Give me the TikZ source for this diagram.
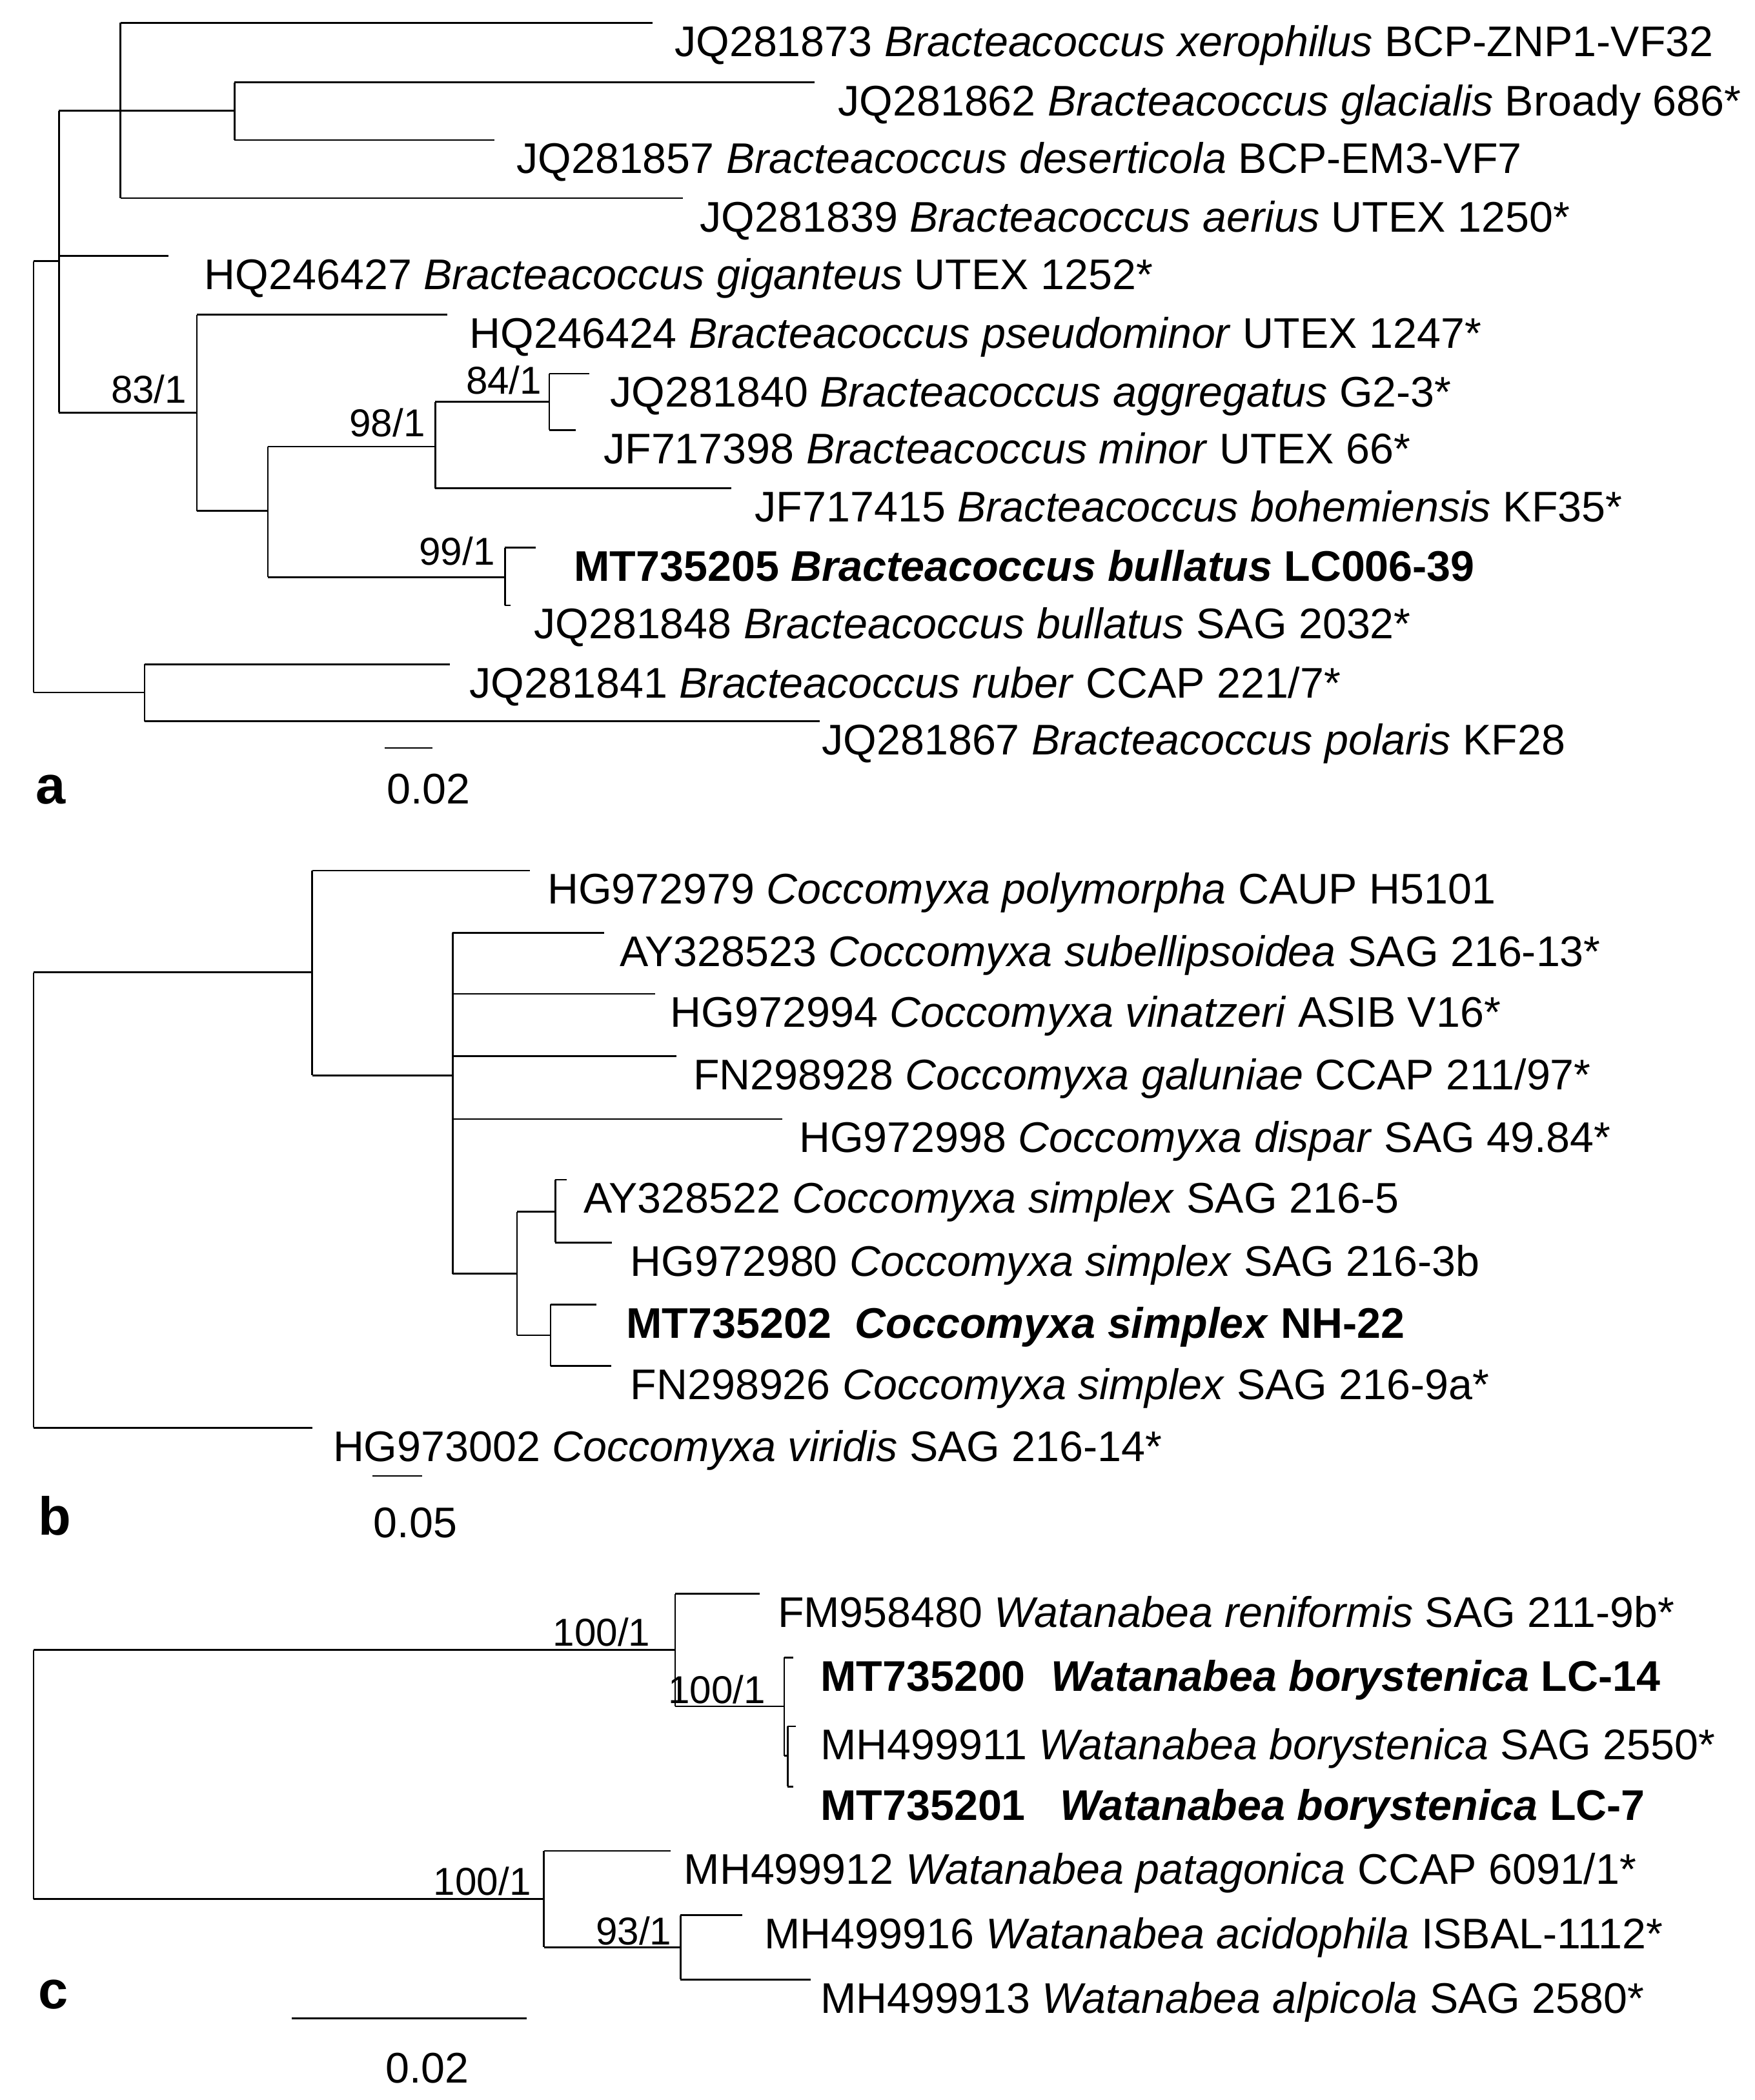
\documentclass[tikz,border=0pt]{standalone}
\usepackage{fontspec}
\setmainfont{Liberation Sans}
\begin{document}
\begin{tikzpicture}[x=1pt,y=-1pt,line width=1.3pt,
  leaf/.style={anchor=base west,inner sep=0pt,font=\fontsize{32}{38}\selectfont},
  supp/.style={anchor=base east,inner sep=0pt,font=\fontsize{29}{34}\selectfont},
  panel/.style={anchor=base west,inner sep=0pt,font=\fontsize{40}{46}\selectfont\bfseries}]
\useasboundingbox[fill=white] (0,0) rectangle (1310,1568);
% ---------- tree a ----------
\draw (25,195) -- (25,517);
\draw (25,195) -- (44,195);
\draw (44,82.7) -- (44,308);
\draw (44,82.7) -- (175,82.7);
\draw (90,17) -- (90,148);
\draw (90,17) -- (487,17);
\draw (175,61.5) -- (175,104.6);
\draw (175,61.5) -- (608,61.5);
\draw (175,104.6) -- (369,104.6);
\draw (90,148) -- (510,148);
\draw (44,191) -- (126,191);
\draw (44,308) -- (147,308);
\draw (147,235) -- (147,381.5);
\draw (147,235) -- (334,235);
\draw (147,381.5) -- (200,381.5);
\draw (200,333.5) -- (200,431);
\draw (200,333.5) -- (325,333.5);
\draw (325,300) -- (325,364.6);
\draw (325,300) -- (410,300);
\draw (410,279) -- (410,321);
\draw (410,279) -- (440,279);
\draw (410,321) -- (430,321);
\draw (325,364.6) -- (546,364.6);
\draw (200,431) -- (377,431);
\draw (377,409) -- (377,452);
\draw (377,409) -- (400,409);
\draw (377,452) -- (381,452);
\draw (25,517) -- (108,517);
\draw (108,496) -- (108,538.5);
\draw (108,496) -- (336,496);
\draw (108,538.5) -- (612,538.5);
\draw (287,558.5) -- (323,558.5);
\node[leaf] (a1) at (503,42) {JQ281873 \textit{Bracteacoccus xerophilus} BCP-ZNP1-VF32};
\node[leaf] (a2) at (625,86.5) {JQ281862 \textit{Bracteacoccus glacialis} Broady 686*};
\node[leaf] (a3) at (385,129.6) {JQ281857 \textit{Bracteacoccus deserticola} BCP-EM3-VF7};
\node[leaf] (a4) at (522,173) {JQ281839 \textit{Bracteacoccus aerius} UTEX 1250*};
\node[leaf] (a5) at (152,216) {HQ246427 \textit{Bracteacoccus giganteus} UTEX 1252*};
\node[leaf] (a6) at (350,260) {HQ246424 \textit{Bracteacoccus pseudominor} UTEX 1247*};
\node[leaf] (a7) at (455,304) {JQ281840 \textit{Bracteacoccus aggregatus} G2-3*};
\node[leaf] (a8) at (450,346) {JF717398 \textit{Bracteacoccus minor} UTEX 66*};
\node[leaf] (a9) at (563,389.6) {JF717415 \textit{Bracteacoccus bohemiensis} KF35*};
\node[leaf,font=\fontsize{32}{38}\selectfont\bfseries] (a10) at (428,434) {MT735205 \textit{Bracteacoccus bullatus} LC006-39};
\node[leaf] (a11) at (398,477) {JQ281848 \textit{Bracteacoccus bullatus} SAG 2032*};
\node[leaf] (a12) at (350,521) {JQ281841 \textit{Bracteacoccus ruber} CCAP 221/7*};
\node[leaf] (a13) at (613,563.5) {JQ281867 \textit{Bracteacoccus polaris} KF28};
\node[supp] (s1) at (140,301) {83/1};
\node[supp] (s2) at (318,326) {98/1};
\node[supp] (s3) at (405,294) {84/1};
\node[supp] (s4) at (370,422) {99/1};
\node[panel] (pa) at (26,600) {a};
\node[leaf,anchor=base] (sa) at (320,600) {0.02};
% ---------- tree b ----------
\draw (25,726) -- (25,1066);
\draw (25,726) -- (233,726);
\draw (233,650) -- (233,803);
\draw (233,650) -- (395.6,650);
\draw (233,803) -- (338,803);
\draw (338,696.5) -- (338,951);
\draw (338,696.5) -- (451,696.5);
\draw (338,742) -- (489,742);
\draw (338,788.5) -- (505,788.5);
\draw (338,835.5) -- (584,835.5);
\draw (338,951) -- (386,951);
\draw (386,904.8) -- (386,997);
\draw (386,904.8) -- (414.5,904.8);
\draw (414.5,880.8) -- (414.5,927.8);
\draw (414.5,880.8) -- (423,880.8);
\draw (414.5,927.8) -- (457,927.8);
\draw (386,997) -- (411,997);
\draw (411,974) -- (411,1020);
\draw (411,974) -- (445,974);
\draw (411,1020) -- (456.5,1020);
\draw (25,1066) -- (233,1066);
\draw (278,1102) -- (315,1102);
\node[leaf] (b1) at (408,675) {HG972979 \textit{Coccomyxa polymorpha} CAUP H5101};
\node[leaf] (b2) at (462,721.5) {AY328523 \textit{Coccomyxa subellipsoidea} SAG 216-13*};
\node[leaf] (b3) at (500,767) {HG972994 \textit{Coccomyxa vinatzeri} ASIB V16*};
\node[leaf] (b4) at (517,813.5) {FN298928 \textit{Coccomyxa galuniae} CCAP 211/97*};
\node[leaf] (b5) at (596,860.5) {HG972998 \textit{Coccomyxa dispar} SAG 49.84*};
\node[leaf] (b6) at (435,905.8) {AY328522 \textit{Coccomyxa simplex} SAG 216-5};
\node[leaf] (b7) at (470,952.8) {HG972980 \textit{Coccomyxa simplex} SAG 216-3b};
\node[leaf,font=\fontsize{32}{38}\selectfont\bfseries] (b8) at (467,999) {MT735202\ \ \textit{Coccomyxa simplex} NH-22};
\node[leaf] (b9) at (470,1045) {FN298926 \textit{Coccomyxa simplex} SAG 216-9a*};
\node[leaf] (b10) at (248,1091) {HG973002 \textit{Coccomyxa viridis} SAG 216-14*};
\node[panel] (pb) at (28,1146) {b};
\node[leaf,anchor=base] (sb) at (310,1148) {0.05};
% ---------- tree c ----------
\draw (25,1232) -- (25,1418);
\draw (25,1232) -- (504,1232);
\draw (504,1190) -- (504,1274);
\draw (504,1190) -- (567,1190);
\draw (504,1274) -- (585.5,1274);
\draw (585.5,1237.5) -- (585.5,1311);
\draw (585.5,1237.5) -- (592,1237.5);
\draw (585.5,1311) -- (588,1311);
\draw (588,1289) -- (588,1334);
\draw (588,1289) -- (594,1289);
\draw (588,1334) -- (592,1334);
\draw (25,1418) -- (406,1418);
\draw (406,1382) -- (406,1454);
\draw (406,1382) -- (500.6,1382);
\draw (406,1454) -- (508,1454);
\draw (508,1430) -- (508,1478);
\draw (508,1430) -- (554,1430);
\draw (508,1478) -- (605,1478);
\draw (218,1507) -- (393,1507);
\node[leaf] (c1) at (580,1215) {FM958480 \textit{Watanabea reniformis} SAG 211-9b*};
\node[leaf,font=\fontsize{32}{38}\selectfont\bfseries] (c2) at (612,1262.5) {MT735200\hspace{0.6em}\textit{Watanabea borystenica} LC-14};
\node[leaf] (c3) at (612,1314) {MH499911 \textit{Watanabea borystenica} SAG 2550*};
\node[leaf,font=\fontsize{32}{38}\selectfont\bfseries] (c4) at (612,1359) {MT735201\hspace{0.8em}\textit{Watanabea borystenica} LC-7};
\node[leaf] (c5) at (510,1407) {MH499912 \textit{Watanabea patagonica} CCAP 6091/1*};
\node[leaf] (c6) at (570,1455) {MH499916 \textit{Watanabea acidophila} ISBAL-1112*};
\node[leaf] (c7) at (612,1503) {MH499913 \textit{Watanabea alpicola} SAG 2580*};
\node[supp] (s5) at (486,1229) {100/1};
\node[supp] (s6) at (572,1272) {100/1};
\node[supp] (s7) at (397,1415) {100/1};
\node[supp] (s8) at (502,1452) {93/1};
\node[panel] (pc) at (28,1500) {c};
\node[leaf,anchor=base] (sc) at (319,1555) {0.02};
\end{tikzpicture}
\end{document}
